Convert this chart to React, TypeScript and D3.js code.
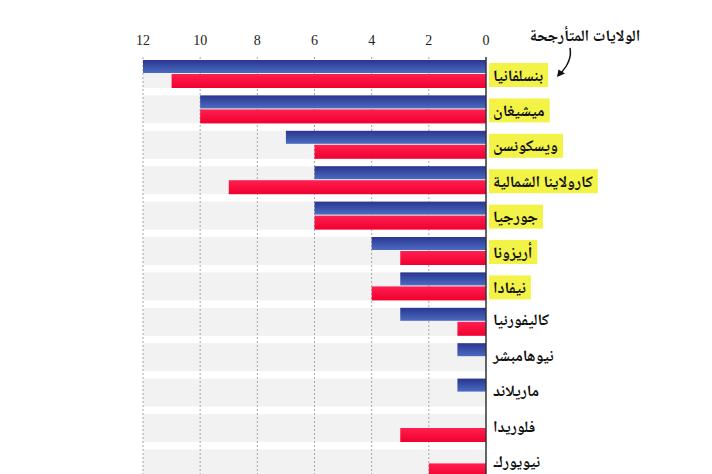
import React, { useEffect, useRef } from "react";
import * as d3 from "d3";

const states = [
  "بنسلفانيا",
  "ميشيغان",
  "ويسكونسن",
  "كارولاينا الشمالية",
  "جورجيا",
  "أريزونا",
  "نيفادا",
  "كاليفورنيا",
  "نيوهامبشر",
  "ماريلاند",
  "فلوريدا",
  "نيويورك",
];
const blueValues = [12, 10, 7, 6, 6, 4, 3, 3, 1, 1, 0, 0];
const redValues = [11, 10, 6, 9, 6, 3, 4, 1, 0, 0, 3, 2];
const swingStates = [true, true, true, true, true, true, true, false, false, false, false, false];
const tickValues = [0, 2, 4, 6, 8, 10, 12];
const titleText = "الولايات المتأرجحة";

const W = 712;
const H = 474;
const ARABIC = "'Noto Naskh Arabic', 'Noto Sans Arabic', 'DejaVu Sans', sans-serif";

export default function App() {
  const ref = useRef<SVGSVGElement | null>(null);

  useEffect(() => {
    const svg = d3.select(ref.current);
    svg.selectAll("*").remove();

    const x = d3.scaleLinear().domain([0, 12]).range([486, 143]);
    const y = d3
      .scaleBand<number>()
      .domain(d3.range(states.length))
      .range([60, 60 + 12 * 35.4 - 7.4])
      .paddingInner(0.209)
      .paddingOuter(0)
      .align(0);

    const defs = svg.append("defs");
    const gb = defs.append("linearGradient").attr("id", "gBlue").attr("x1", 0).attr("y1", 0).attr("x2", 0).attr("y2", 1);
    gb.append("stop").attr("offset", "0%").attr("stop-color", "#2a3590");
    gb.append("stop").attr("offset", "100%").attr("stop-color", "#4a6cc0");
    const gr = defs.append("linearGradient").attr("id", "gRed").attr("x1", 0).attr("y1", 0).attr("x2", 0).attr("y2", 1);
    gr.append("stop").attr("offset", "0%").attr("stop-color", "#ff2050");
    gr.append("stop").attr("offset", "100%").attr("stop-color", "#f0002f");

    // background bands
    svg
      .append("g")
      .selectAll("rect")
      .data(states.map((_, i) => i))
      .join("rect")
      .attr("x", x(12))
      .attr("y", (i) => y(i)!)
      .attr("width", x(0) - x(12))
      .attr("height", y.bandwidth())
      .attr("fill", "#f2f2f2");

    // gridlines
    svg
      .append("g")
      .selectAll("line")
      .data(tickValues.filter((t) => t !== 0))
      .join("line")
      .attr("x1", (d) => x(d))
      .attr("x2", (d) => x(d))
      .attr("y1", 57)
      .attr("y2", H)
      .attr("stroke", "#a8a8a8")
      .attr("stroke-width", 1)
      .attr("stroke-dasharray", "2,2");

    // tick labels
    svg
      .append("g")
      .selectAll("text")
      .data(tickValues)
      .join("text")
      .attr("x", (d) => x(d))
      .attr("y", 45)
      .attr("text-anchor", "middle")
      .attr("font-family", "'Liberation Serif', 'DejaVu Serif', serif")
      .attr("font-size", 14)
      .attr("fill", "#222")
      .text((d) => String(d));

    const half = y.bandwidth() / 2;
    // blue bars
    svg
      .append("g")
      .selectAll("rect")
      .data(blueValues.map((v, i) => ({ v, i })).filter((d) => d.v > 0))
      .join("rect")
      .attr("x", (d) => x(d.v))
      .attr("y", (d) => y(d.i)!)
      .attr("width", (d) => x(0) - x(d.v))
      .attr("height", half - 1)
      .attr("fill", "url(#gBlue)");

    // red bars
    svg
      .append("g")
      .selectAll("rect")
      .data(redValues.map((v, i) => ({ v, i })).filter((d) => d.v > 0))
      .join("rect")
      .attr("x", (d) => x(d.v))
      .attr("y", (d) => y(d.i)! + half)
      .attr("width", (d) => x(0) - x(d.v))
      .attr("height", half)
      .attr("fill", "url(#gRed)");

    // axis line
    svg
      .append("line")
      .attr("x1", x(0))
      .attr("x2", x(0))
      .attr("y1", 57)
      .attr("y2", H)
      .attr("stroke", "#333")
      .attr("stroke-width", 1.5);

    // labels
    const lg = svg.append("g");
    states.forEach((s, i) => {
      const cy = y(i)! + half + 1;
      const g = lg.append("g");
      const rect = g.append("rect");
      const t = g
        .append("text")
        .attr("x", 493)
        .attr("y", swingStates[i] ? cy : cy - 3)
        .attr("dy", "0.35em")
        .attr("font-family", ARABIC)
        .attr("font-size", 16)
        .attr("font-weight", 700)
        .attr("fill", "#111")
        .text(s);
      if (swingStates[i]) {
        const bb = (t.node() as SVGTextElement).getBBox();
        rect
          .attr("x", 489)
          .attr("y", cy - 12)
          .attr("width", bb.width + 9)
          .attr("height", 24)
          .attr("fill", "#f3f347");
      } else {
        rect.remove();
      }
    });

    // title
    svg
      .append("text")
      .attr("x", 585)
      .attr("y", 35)
      .attr("dy", "0.35em")
      .attr("text-anchor", "middle")
      .attr("font-family", ARABIC)
      .attr("font-size", 16)
      .attr("font-weight", 700)
      .attr("fill", "#111")
      .text(titleText);

    // arrow
    svg
      .append("path")
      .attr("d", "M570,48 C572,58 566,68 559,75")
      .attr("fill", "none")
      .attr("stroke", "#111")
      .attr("stroke-width", 1.5);
    svg
      .append("path")
      .attr("d", "M557,77 L558.5,69.5 L565,73.5 Z")
      .attr("fill", "#111");
  }, []);

  return (
    <svg
      ref={ref}
      width={W}
      height={H}
      style={{ position: "absolute", left: 0, top: 0, background: "#fff" }}
    />
  );
}
